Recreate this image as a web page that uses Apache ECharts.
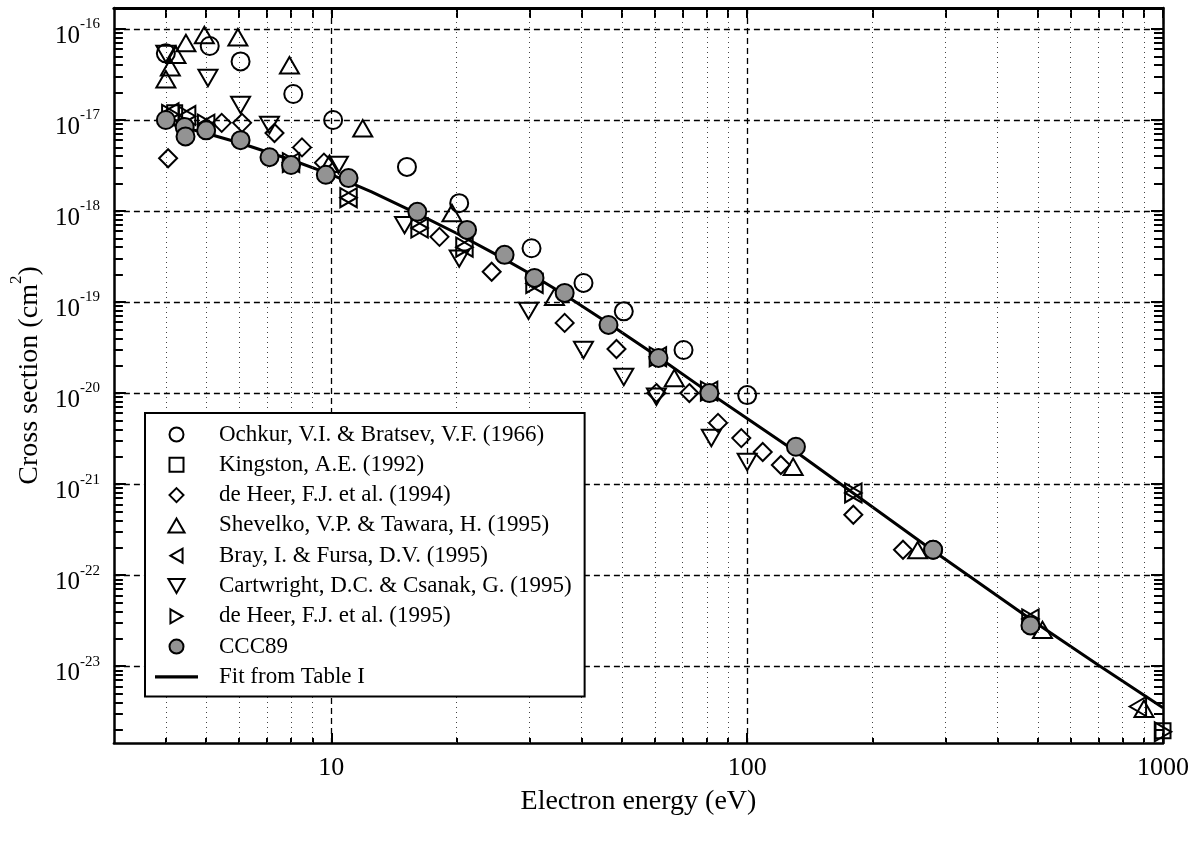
<!DOCTYPE html>
<html>
<head>
<meta charset="utf-8">
<script src="https://cdn.jsdelivr.net/npm/echarts@6/dist/echarts.min.js"></script>
<style>
  html, body { margin: 0; padding: 0; background: #ffffff; }
  #chart { width: 1197px; height: 843px; }
</style>
</head>
<body>
<div id="chart"></div>
<script>
// Electron-impact cross sections: [energy (eV), cross section (cm^2)]
const ochkur = [[4.0, 5.4e-17], [5.1, 6.5e-17], [6.05, 4.4e-17], [8.1, 1.93e-17], [10.1, 1.0e-17],
  [15.2, 3.05e-18], [20.3, 1.22e-18], [30.3, 3.9e-19], [40.4, 1.62e-19], [50.5, 7.9e-20],
  [70.3, 2.97e-20], [100, 9.5e-21], [280, 1.9e-22]];
const kingston = [[4.2, 1.2e-17], [1000, 1.95e-24]];
const deHeer94 = [[4.05, 3.8e-18], [5.45, 9.3e-18], [6.1, 9.3e-18], [7.3, 7.2e-18], [8.5, 5.0e-18],
  [9.6, 3.4e-18], [18.2, 5.2e-19], [24.3, 2.15e-19], [36.4, 5.9e-20], [48.5, 3.05e-20],
  [60.5, 1.0e-20], [72.6, 1.0e-20], [85.1, 4.7e-21], [96.8, 3.2e-21], [109, 2.25e-21],
  [120.5, 1.62e-21], [180, 4.6e-22], [237, 1.9e-22]];
const shevelko = [[4.0, 2.8e-17], [4.1, 3.8e-17], [4.23, 5.2e-17], [4.47, 7.0e-17], [4.95, 8.6e-17],
  [5.96, 8.1e-17], [7.93, 4.0e-17], [9.9, 3.3e-18], [11.9, 8.1e-18], [19.5, 9.5e-19],
  [34.4, 1.14e-19], [66.8, 1.46e-20], [129, 1.55e-21], [257, 1.88e-22], [513, 2.5e-23],
  [900, 3.4e-24]];
const bray = [[4.1, 1.2e-17], [4.5, 1.12e-17], [5.0, 9.0e-18], [8.0, 3.4e-18], [11.0, 1.4e-18],
  [16.3, 6.5e-19], [20.9, 4.0e-19], [30.8, 1.6e-19], [61, 2.5e-20], [81, 1.05e-20],
  [180, 8.0e-22], [480, 3.3e-23], [870, 3.6e-24]];
const cartwright = [[4.0, 5.3e-17], [5.05, 2.9e-17], [6.05, 1.46e-17], [7.1, 8.8e-18], [10.4, 3.2e-18],
  [15.0, 7.0e-19], [20.3, 3.0e-19], [29.8, 8.0e-20], [40.4, 2.97e-20], [50.5, 1.5e-20],
  [60.5, 9.1e-21], [82, 3.2e-21], [100, 1.75e-21]];
const deHeer95 = [[4.1, 1.15e-17], [4.5, 1.1e-17], [5.0, 9.0e-18], [8.0, 3.4e-18], [11.0, 1.4e-18],
  [16.3, 6.5e-19], [20.9, 4.0e-19], [30.8, 1.6e-19], [61, 2.5e-20], [81, 1.05e-20],
  [180, 8.0e-22], [480, 3.3e-23], [1000, 1.9e-24]];
const ccc89 = [[4.0, 1.0e-17], [4.44, 8.4e-18], [4.46, 6.6e-18], [5.0, 7.7e-18], [6.05, 6.0e-18],
  [7.1, 3.9e-18], [8.0, 3.2e-18], [9.7, 2.5e-18], [11.0, 2.3e-18], [16.1, 9.8e-19],
  [21.2, 6.2e-19], [26.1, 3.3e-19], [30.8, 1.84e-19], [36.4, 1.26e-19], [46.4, 5.6e-20],
  [61.2, 2.43e-20], [81.1, 1.0e-20], [131, 2.57e-21], [280, 1.9e-22], [480, 2.8e-23]];
const fitTableI = [[4, 9.3e-18], [5, 7.14e-18], [6, 5.63e-18], [8, 3.66e-18], [10, 2.51e-18],
  [12.5, 1.62e-18], [16, 9.5e-19], [20, 5.7e-19], [25, 3.3e-19], [30, 2.06e-19], [36, 1.24e-19],
  [45, 6.4e-20], [60, 2.63e-20], [80, 1.05e-20], [100, 5.24e-21], [130, 2.32e-21],
  [170, 9.6e-22], [280, 1.85e-22], [500, 2.89e-23], [700, 1.02e-23], [1000, 3.49e-24]];

const seriesNames = [
  'Ochkur, V.I. & Bratsev, V.F. (1966)',
  'Kingston, A.E. (1992)',
  'de Heer, F.J. et al. (1994)',
  'Shevelko, V.P. & Tawara, H. (1995)',
  'Bray, I. & Fursa, D.V. (1995)',
  'Cartwright, D.C. & Csanak, G. (1995)',
  'de Heer, F.J. et al. (1995)',
  'CCC89',
  'Fit from Table I'
];

// Axis ticks
const xMajorTicks = [10, 100, 1000];
const xGridTicks = [10, 100];
const xMinorTicks = [4, 5, 6, 7, 8, 9, 20, 30, 40, 50, 60, 70, 80, 90, 200, 300, 400, 500, 600, 700, 800, 900];
const yDecadeTicks = [1e-23, 1e-22, 1e-21, 1e-20, 1e-19, 1e-18, 1e-17, 1e-16];
const X_MIN = 3, X_MAX = 1000;
const Y_MIN = 1.43e-24, Y_MAX = 1.7e-16;

const yMinorTicks = [];
[1e-24].concat(yDecadeTicks).forEach(function (d) {
  for (let k = 2; k <= 9; k++) {
    const v = k * d;
    if (v > Y_MIN && v < Y_MAX) yMinorTicks.push(v);
  }
});

const FONT = 'Liberation Serif';
const BLACK = '#000000';

// Open marker outlines
const SYM = {
  square: 'path://M0,0 L10,0 L10,10 L0,10 Z',
  diamond: 'path://M5,0 L10,5 L5,10 L0,5 Z',
  up: 'path://M5,0 L10,8.66 L0,8.66 Z',
  down: 'path://M0,0 L10,0 L5,8.66 Z',
  left: 'path://M0,5 L8.66,0 L8.66,10 Z',
  right: 'path://M0,0 L8.66,5 L0,10 Z',
  bar: 'path://M0,0 L43,0 L43,3.4 L0,3.4 Z'
};

function xAxisDef(extra) {
  return Object.assign({
    type: 'log', logBase: 10, min: X_MIN, max: X_MAX, gridIndex: 0,
    axisLine: { show: false }, axisTick: { show: false },
    axisLabel: { show: false }, splitLine: { show: false }
  }, extra);
}
function yAxisDef(extra) {
  return Object.assign({
    type: 'log', logBase: 10, min: Y_MIN, max: Y_MAX, gridIndex: 0,
    axisLine: { show: false }, axisTick: { show: false },
    axisLabel: { show: false }, splitLine: { show: false }
  }, extra);
}

const frameLine = { show: true, onZero: false, lineStyle: { color: BLACK, width: 2.5 } };
const tickStyle = { color: BLACK, width: 2 };
const gridDash = { color: BLACK, width: 1.3, type: [6, 4] };

function scatter(name, data, symbol, size, fill) {
  return {
    type: 'scatter', name: name, data: data,
    xAxisIndex: 0, yAxisIndex: 0,
    symbol: symbol, symbolSize: size, symbolKeepAspect: true,
    itemStyle: { color: fill || 'rgba(255,255,255,0)', borderColor: BLACK, borderWidth: 2, opacity: 1 },
    emphasis: { disabled: true }, z: 5
  };
}

const legendData = seriesNames.map(function (n, i) {
  return i === 8 ? { name: n, icon: SYM.bar } : { name: n };
});

const chart = echarts.init(document.getElementById('chart'), null, { renderer: 'canvas' });

chart.setOption({
  animation: false,
  backgroundColor: '#ffffff',
  grid: { left: 112, top: 8, width: 1051, height: 735, containLabel: false },
  xAxis: [
    xAxisDef({
      position: 'bottom',
      axisLine: frameLine,
      axisTick: { show: true, inside: true, length: 10, customValues: xMajorTicks, lineStyle: tickStyle },
      axisLabel: {
        show: true, customValues: xMajorTicks, margin: 12, color: BLACK, fontFamily: FONT, fontSize: 26,
        formatter: function (v) { return String(v); }
      },
      splitLine: { show: true, customValues: xGridTicks, lineStyle: gridDash },
      name: 'Electron energy (eV)', nameLocation: 'middle', nameGap: 45,
      nameTextStyle: { color: BLACK, fontFamily: FONT, fontSize: 28 }
    }),
    xAxisDef({
      position: 'bottom',
      axisTick: { show: true, inside: true, length: 5, customValues: xMinorTicks, lineStyle: tickStyle }
    }),
    xAxisDef({
      position: 'top',
      axisLine: { show: true, onZero: false, lineStyle: { color: BLACK, width: 3 } },
      axisTick: { show: true, inside: true, length: 10, customValues: xMajorTicks.concat(xMinorTicks), lineStyle: tickStyle }
    })
  ],
  yAxis: [
    yAxisDef({
      position: 'left',
      axisLine: frameLine,
      axisTick: { show: true, inside: true, length: 12, customValues: yDecadeTicks, lineStyle: tickStyle },
      axisLabel: {
        show: true, customValues: yDecadeTicks, margin: 14, padding: [8, 0, 0, 0],
        formatter: function (v) {
          const e = Math.round(Math.log10(v));
          return '{b|10}{s|' + e + '}';
        },
        rich: {
          b: { fontFamily: FONT, fontSize: 25, color: BLACK, lineHeight: 32, verticalAlign: 'bottom' },
          s: { fontFamily: FONT, fontSize: 15, color: BLACK, lineHeight: 32, verticalAlign: 'top' }
        }
      },
      splitLine: { show: true, customValues: yDecadeTicks, lineStyle: gridDash },
      name: '{n|Cross section (cm}{s|2}{n|)}', nameLocation: 'middle', nameGap: 63,
      nameTextStyle: {
        rich: {
          n: { fontFamily: FONT, fontSize: 28, color: BLACK, lineHeight: 36, verticalAlign: 'bottom' },
          s: { fontFamily: FONT, fontSize: 17, color: BLACK, lineHeight: 36, verticalAlign: 'top' }
        }
      }
    }),
    yAxisDef({
      position: 'left',
      axisTick: { show: true, inside: true, length: 9, customValues: yMinorTicks, lineStyle: tickStyle }
    }),
    yAxisDef({
      position: 'right',
      axisLine: frameLine,
      axisTick: { show: true, inside: true, length: 12, customValues: yDecadeTicks, lineStyle: tickStyle }
    }),
    yAxisDef({
      position: 'right',
      axisTick: { show: true, inside: true, length: 9, customValues: yMinorTicks, lineStyle: tickStyle }
    })
  ],
  legend: {
    orient: 'vertical', left: 145, top: 413,
    itemWidth: 43, itemHeight: 14, itemGap: 7.3,
    padding: [10, 13, 8, 10],
    backgroundColor: '#ffffff', borderColor: BLACK, borderWidth: 2,
    selectedMode: false, symbolKeepAspect: true, z: 10,
    textStyle: { fontFamily: FONT, fontSize: 23, lineHeight: 23, color: BLACK, padding: [0, 0, 0, 16] },
    data: legendData
  },
  series: [
    {
      type: 'line', name: seriesNames[8], data: fitTableI,
      xAxisIndex: 0, yAxisIndex: 0, symbol: 'none', smooth: false,
      lineStyle: { color: BLACK, width: 3 }, itemStyle: { color: BLACK },
      emphasis: { disabled: true }, z: 4,
      // dotted minor grid at 2..9 of each decade of energy
      markLine: {
        silent: true, symbol: ['none', 'none'], label: { show: false },
        lineStyle: { color: '#444444', width: 1, type: [1, 4] },
        emphasis: { disabled: true },
        data: xMinorTicks.map(function (v) { return { xAxis: v }; })
      }
    },
    scatter(seriesNames[0], ochkur, 'circle', 18),
    scatter(seriesNames[1], kingston, SYM.square, 15),
    scatter(seriesNames[2], deHeer94, SYM.diamond, 18),
    scatter(seriesNames[3], shevelko, SYM.up, 19),
    scatter(seriesNames[4], bray, SYM.left, 19),
    scatter(seriesNames[5], cartwright, SYM.down, 19),
    scatter(seriesNames[6], deHeer95, SYM.right, 19),
    scatter(seriesNames[7], ccc89, 'circle', 18, '#939393')
  ]
});
</script>
</body>
</html>
